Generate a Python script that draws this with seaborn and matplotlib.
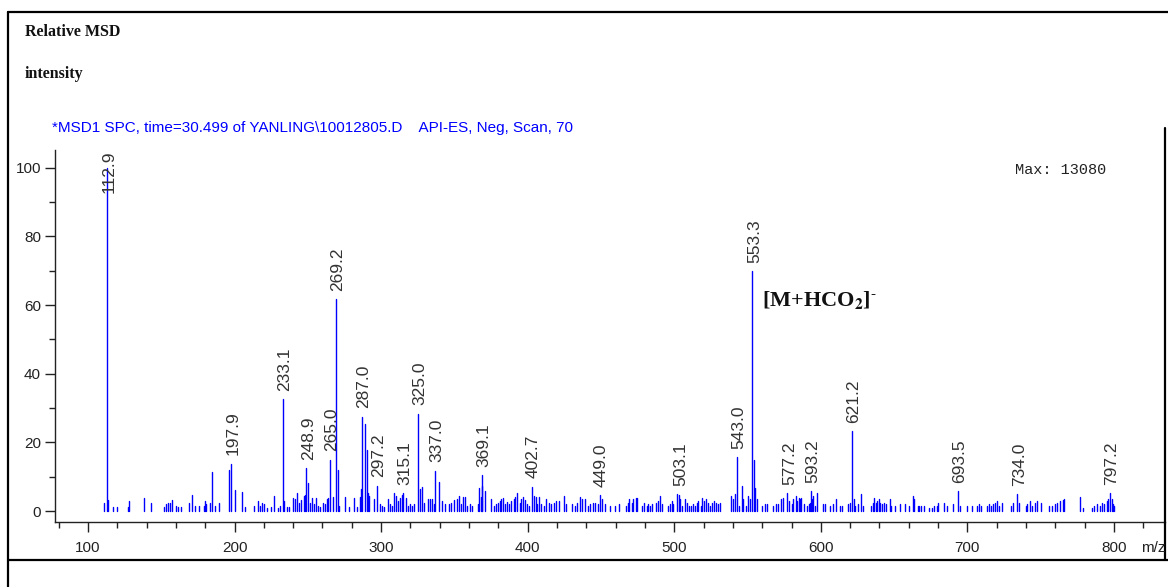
import numpy as np
import pandas as pd
import matplotlib
matplotlib.use("Agg")
import matplotlib.pyplot as plt
from matplotlib.lines import Line2D
from matplotlib import font_manager as fm
import seaborn as sns

# ---------------- data ----------------
label_mz = [112.9, 197.9, 233.1, 248.9, 265.0, 269.2, 287.0, 297.2, 315.1, 325.0,
            337.0, 369.1, 402.7, 449.0, 503.1, 543.0, 553.3, 577.2, 593.2, 621.2,
            693.5, 734.0, 797.2]
label_int = [100.0, 13.8, 32.6, 12.5, 15.0, 61.7, 27.5, 7.4, 5.3, 28.4,
             11.8, 10.4, 7.1, 4.6, 4.8, 15.8, 69.8, 5.3, 5.8, 23.3,
             5.8, 4.9, 5.3]

other_mz = [184.8, 196.1, 200.0, 204.8, 250.1, 270.5, 289.0, 290.3, 327.7, 339.5,
            367.0, 546.0, 554.2, 555.3]
other_int = [11.5, 12.0, 6.1, 5.6, 8.2, 12.0, 25.4, 17.8, 7.0, 8.5,
             6.6, 7.3, 14.9, 6.8]

noise_mz = [111.1, 113.8, 116.8, 119.5, 127.0, 128.1, 138.3, 143.3, 151.7, 153.1, 154.6, 155.8,
            157.4, 160.3, 161.4, 163.3, 169.2, 170.7, 173.2, 175.7, 178.9, 179.6, 180.7, 183.4,
            186.8, 189.1, 207.3, 213.2, 215.9, 217.5, 218.8, 220.4, 221.8, 225.0, 226.7,
            229.5, 231.1, 234.0, 235.6, 237.4, 239.7, 241.0, 242.4, 244.2, 245.6, 247.1, 247.8,
            251.5, 252.8, 254.2, 255.6, 256.9, 258.3, 260.1, 261.7, 262.8, 264.0, 267.3, 271.5,
            275.5, 277.8, 281.6, 283.2, 285.5, 286.3, 291.2, 292.0, 295.2, 299.3, 300.5, 302.0,
            304.8, 305.9, 307.3, 309.0, 310.2, 311.3, 312.9, 314.1, 316.8, 318.1, 319.7, 320.8,
            322.4, 326.5, 329.2, 332.2, 333.6, 334.9, 336.0, 341.3, 343.5,
            346.3, 347.8, 349.7, 351.5, 352.8, 354.2, 355.6, 356.9, 358.8, 360.6, 362.2, 366.0,
            367.9, 368.5, 371.0, 375.3, 376.9, 378.7, 379.8, 380.9, 382.1, 383.2, 384.5, 385.9,
            387.3, 388.9, 390.5, 391.6, 393.0, 394.6, 395.7, 397.1, 398.4, 399.6, 401.1, 404.0,
            405.4, 406.5, 407.7, 409.0, 410.8, 412.7, 414.3, 416.1, 417.7, 419.1, 421.1, 424.5,
            426.3, 430.2, 432.0, 433.8, 435.4, 437.0, 439.3, 440.9, 442.3, 444.3, 446.1, 447.9,
            450.9, 452.8, 456.2, 459.6, 462.6,
            467.0, 468.1, 469.4, 471.0, 472.1, 473.7, 474.8, 478.2, 479.6, 481.2, 482.3, 483.7,
            485.0, 487.5, 488.6, 490.0, 491.3, 495.4, 497.0, 498.2, 499.3, 501.6, 504.2, 505.4,
            507.3, 508.6, 510.0, 511.4, 512.5, 514.1, 515.3, 516.4, 518.0, 519.1, 520.3, 521.6,
            522.8, 524.2, 525.5, 526.9, 528.3, 529.9, 531.3, 539.0, 540.1, 541.2, 544.2, 547.1,
            548.7, 550.3, 551.6, 556.4, 560.1, 561.7, 563.3, 567.4, 569.7, 570.9, 572.7, 574.3,
            578.5, 580.0, 581.2, 582.8,
            583.9, 585.0, 586.1, 586.8, 588.2, 590.7, 591.9, 592.6, 593.9, 594.5, 595.7, 597.3,
            601.2, 602.5, 606.4, 608.0, 610.3, 612.8, 614.4, 618.5, 619.6, 622.4, 623.6, 625.2,
            627.7, 629.0, 634.3, 635.4, 636.5, 637.7, 638.6, 639.5, 640.6, 641.8, 642.9, 644.7,
            647.0, 648.1, 650.4, 654.3, 657.3, 660.0, 662.6, 663.7, 666.0, 667.1, 668.3, 670.5,
            674.0, 675.8, 677.4, 679.0, 680.1, 684.2, 685.8, 690.3, 695.0, 699.6,
            703.3, 706.3, 707.9, 709.0, 713.1, 714.7, 715.8, 717.6, 718.5, 720.0, 721.6, 723.9,
            729.5, 731.1, 735.4, 739.7, 740.9, 742.5, 744.3, 746.1, 747.7, 750.0, 755.7, 758.0,
            759.6, 761.4, 763.3, 764.9, 766.2, 777.1, 778.7, 785.1, 786.7, 788.5, 790.3, 791.9,
            793.5, 794.9, 795.8, 798.3, 799.4, 800.3]
noise_int = [2.4, 3.2, 1.2, 1.2, 1.2, 2.9, 3.7, 2.4, 1.2, 2.0, 2.2, 2.2,
             3.3, 1.5, 1.2, 1.2, 2.4, 4.6, 1.5, 1.5, 1.5, 2.9, 2.0, 2.4,
             1.5, 2.4, 1.2, 1.5, 2.9, 1.5, 2.4, 2.0, 1.0, 1.2, 4.4,
             1.0, 1.5, 2.9, 1.2, 1.2, 3.7, 3.4, 5.3, 2.4, 3.1, 4.4, 4.7,
             2.4, 3.9, 2.0, 3.9, 1.5, 1.2, 2.4, 2.0, 3.4, 3.9, 4.1, 1.5,
             4.1, 1.2, 3.9, 1.2, 4.1, 6.3, 5.3, 4.4, 3.4, 2.0, 1.5, 1.2,
             3.4, 2.0, 1.5, 5.3, 4.4, 2.9, 3.9, 4.7, 3.9, 1.5, 2.0, 1.5,
             2.0, 6.3, 2.4, 3.4, 3.4, 3.4, 2.0, 2.9, 2.0,
             2.0, 2.4, 3.1, 3.4, 4.4, 2.0, 4.1, 4.1, 1.5, 2.0, 1.5, 2.0,
             4.1, 7.3, 5.8, 3.6, 1.5, 2.0, 2.4, 2.9, 3.4, 3.7, 2.0, 2.7,
             2.0, 2.9, 3.4, 4.1, 5.3, 2.4, 3.4, 4.1, 3.1, 2.0, 1.5, 4.4,
             4.1, 2.0, 4.1, 2.0, 1.5, 3.6, 2.4, 2.0, 2.4, 2.9, 2.9, 4.4,
             2.0, 2.0, 1.5, 2.4, 4.1, 3.4, 3.4, 1.5, 2.0, 2.4, 2.4, 2.0,
             3.4, 2.0, 1.5, 1.5, 2.0,
             1.5, 2.4, 3.4, 2.4, 3.6, 3.7, 3.9, 1.5, 2.4, 1.5, 2.0, 1.5,
             2.0, 2.4, 2.9, 4.4, 2.0, 1.5, 2.0, 2.9, 2.0, 4.9, 3.4, 1.5,
             3.6, 2.4, 1.5, 1.5, 2.0, 1.5, 2.4, 2.9, 1.5, 3.7, 2.9, 3.4,
             2.4, 1.5, 2.4, 2.9, 2.4, 2.0, 2.4, 4.4, 3.4, 4.9, 1.5, 3.4,
             1.5, 4.4, 3.4, 3.4, 1.5, 2.0, 2.0, 1.5, 2.0, 2.0, 3.4, 3.9,
             2.9, 2.0, 3.4, 4.4,
             2.9, 3.9, 3.4, 3.7, 2.0, 1.5, 2.0, 2.4, 3.4, 4.4, 1.5, 5.3,
             2.0, 2.0, 1.5, 2.0, 3.4, 1.5, 1.5, 2.0, 2.4, 3.4, 1.5, 2.0,
             4.9, 1.5, 1.5, 2.4, 3.9, 2.4, 2.9, 3.4, 2.4, 2.0, 2.4, 2.0,
             3.4, 1.5, 1.5, 2.0, 2.0, 1.5, 4.4, 3.4, 1.5, 1.5, 1.5, 1.5,
             1.0, 1.0, 1.5, 1.5, 2.4, 2.4, 1.5, 2.0, 1.5, 1.5,
             1.5, 1.5, 2.0, 1.5, 1.5, 2.0, 1.5, 2.0, 2.4, 2.9, 1.5, 2.4,
             1.5, 2.4, 2.4, 1.5, 2.0, 2.9, 1.5, 2.4, 2.9, 2.4, 1.5, 1.5,
             2.0, 2.4, 2.9, 3.1, 3.4, 4.1, 1.0, 1.0, 1.5, 2.0, 1.5, 2.4,
             2.0, 2.9, 3.4, 3.4, 2.0, 1.5]

x_ticks = [100, 200, 300, 400, 500, 600, 700, 800]
y_ticks = [0, 20, 40, 60, 80, 100]

header1 = "Relative MSD"
header2 = "intensity"
scan_info = "*MSD1 SPC, time=30.499 of YANLING\\10012805.D    API-ES, Neg, Scan, 70"
max_text = "Max: 13080"
ion_label = r"[M+HCO$_\mathbf{2}$]$^\text{-}$"

# ---------------- build table ----------------
all_mz = label_mz + other_mz + noise_mz
all_int = label_int + other_int + noise_int
rows = []
for i, (m, h) in enumerate(zip(all_mz, all_int)):
    rows.append((i, m, 0.0))
    rows.append((i, m, h))
df = pd.DataFrame(rows, columns=["pid", "mz", "intensity"])

# ---------------- style ----------------
sns.set_style("ticks")
names = {f.name for f in fm.fontManager.ttflist}
sans = "Liberation Sans Narrow" if "Liberation Sans Narrow" in names else "Liberation Sans"
plt.rcParams["font.family"] = [sans, "DejaVu Sans"]
plt.rcParams["mathtext.fontset"] = "stix"

W, H = 1168, 587
fig = plt.figure(figsize=(W / 100, H / 100), dpi=100)
fig.patch.set_facecolor("white")

def fx(px):
    return px / W

def fy(py):
    return 1 - py / H

ax = fig.add_axes([fx(55), fy(522), fx(1165) - fx(55), fy(150) - fy(522)])
ax.set_facecolor("white")

sns.lineplot(data=df, x="mz", y="intensity", units="pid", estimator=None,
             sort=False, color="#0000ff", lw=1.0, ax=ax, legend=False)

ax.set_xlim(77.5, 834.8)
ax.set_ylim(-3.2, 105.2)
ax.set_xlabel("")
ax.set_ylabel("")
for s in ["top", "right"]:
    ax.spines[s].set_visible(False)
for s in ["left", "bottom"]:
    ax.spines[s].set_color("#222222")
    ax.spines[s].set_linewidth(1.0)

ax.set_xticks(x_ticks)
ax.set_xticklabels([str(v) for v in x_ticks])
ax.set_xticks(np.arange(80, 834, 20), minor=True)
ax.set_yticks(y_ticks)
ax.set_yticklabels([str(v) for v in y_ticks])
ax.set_yticks(np.arange(0, 101, 10), minor=True)
ax.tick_params(axis="both", which="major", direction="out", length=7, width=1.0,
               color="#222222", labelsize=11, labelcolor="#222222")
ax.tick_params(axis="x", which="major", pad=7)
ax.tick_params(axis="y", which="major", pad=3)
ax.tick_params(axis="both", which="minor", direction="out", length=4.5, width=1.0,
               color="#222222")

# peak labels
for m, h in zip(label_mz, label_int):
    yl = min(h + 2.4, 92.7)
    ax.text(m + 1.3, yl, f"{m:.1f}", rotation=90, ha="center", va="bottom",
            fontsize=12.5, color="#333333", clip_on=False)

ax.text(560, 61.5, ion_label, fontsize=16, fontweight="bold",
        family=["Liberation Serif", "DejaVu Serif"], color="#111111",
        ha="left", va="center")

# texts on figure
fig.text(fx(1015), fy(170), max_text, family=["Liberation Mono", "DejaVu Sans Mono"],
         fontsize=11, color="#222222", ha="left", va="center")
fig.text(fx(25), fy(32), header1, family=["Liberation Serif", "DejaVu Serif"],
         fontweight="bold", fontsize=11.5, color="#111111", ha="left", va="center")
fig.text(fx(25), fy(74), header2, family=["Liberation Serif", "DejaVu Serif"],
         fontweight="bold", fontsize=11.5, color="#111111", ha="left", va="center")
fig.text(fx(52), fy(128), scan_info, fontsize=11, color="#0000ff",
         ha="left", va="center")
fig.text(fx(1141), fy(548), "m/z", fontsize=11, color="#222222", ha="left", va="center")

# frame lines
lw = 1.6
for (x0, y0, x1, y1) in [(8, 12, 1168, 12), (8, 12, 8, 587), (8, 560, 1168, 560),
                         (1165, 128, 1165, 560)]:
    fig.add_artist(Line2D([fx(x0), fx(x1)], [fy(y0), fy(y1)], color="black", lw=lw,
                          transform=fig.transFigure))

fig.savefig("out.png", dpi=100, facecolor="white")
